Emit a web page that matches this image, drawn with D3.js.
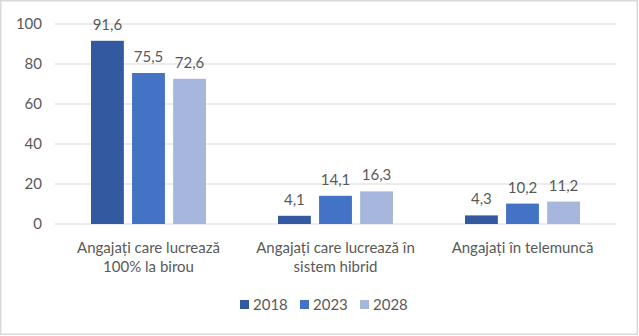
<!DOCTYPE html><meta charset="utf-8"><style>
    body { margin: 0; }
    text { font-family: Lato, "Open Sans", sans-serif; fill: #595959; }
</style><svg width="639" height="336"></svg><script src="https://cdn.jsdelivr.net/npm/d3@7"></script><script>

    var width = 639, height = 336;
    var margin = ({top: 24, right: 23, bottom: 112, left: 55});
    var fontSize = "15px";

    var categories = [
        ["Angajați care lucrează", "100% la birou"],
        ["Angajați care lucrează în", "sistem hibrid"],
        ["Angajați în telemuncă"]
    ];
    var years = ["2018", "2023", "2028"];
    var v2018 = [91.6, 4.1, 4.3];
    var v2023 = [75.5, 14.1, 10.2];
    var v2028 = [72.6, 16.3, 11.2];
    var yTicks = [0, 20, 40, 60, 80, 100];
    var colors = ["#335AA1", "#4472C4", "#A6B6DC"];

    var series = [v2018, v2023, v2028];
    var data = categories.map((c, i) => ({
        name: i,
        lines: c,
        values: years.map((y, j) => ({year: y, value: series[j][i]}))
    }));

    var formatValue = d => d.toFixed(1).replace(".", ",");

    var svg = d3.select("svg").attr("viewBox", [0, 0, width, height]);

    svg.append("rect")
        .attr("x", 0.75).attr("y", 0.75)
        .attr("width", width - 2.5).attr("height", height - 2.5)
        .attr("fill", "#fff").attr("stroke", "#d9d9d9").attr("stroke-width", 1.5);

    var x = d3.scaleBand()
        .domain(data.map(d => d.name))
        .range([margin.left, width - margin.right]);

    var x1 = d3.scaleBand()
        .domain(years)
        .range([0, 115])
        .paddingInner(0.2);

    var y = d3.scaleLinear()
        .domain([0, 100])
        .range([height - margin.bottom, margin.top]);

    // grid
    svg.append("g")
        .selectAll("line")
        .data(yTicks)
        .join("line")
        .attr("x1", margin.left).attr("x2", width - margin.right)
        .attr("y1", d => y(d)).attr("y2", d => y(d))
        .attr("stroke", "#d9d9d9").attr("stroke-width", 1.2);

    svg.append("g")
        .attr("transform", `translate(42,0)`)
        .call(d3.axisLeft(y).tickValues(yTicks).tickSize(0).tickPadding(0))
        .call(g => g.select(".domain").remove())
        .call(g => g.selectAll("text")
            .attr("fill", "#595959")
            .style("font-family", "Lato, 'Open Sans', sans-serif")
            .style("font-size", fontSize));

    var groups = svg.append("g")
        .selectAll("g")
        .data(data)
        .join("g")
        .attr("transform", d => `translate(${x(d.name) + x.bandwidth() / 2 - 57.5},0)`);

    groups.selectAll("rect")
        .data(d => d.values)
        .join("rect")
        .attr("x", d => x1(d.year))
        .attr("y", d => y(d.value))
        .attr("width", x1.bandwidth())
        .attr("height", d => y(0) - y(d.value))
        .attr("fill", (d, i) => colors[i]);

    groups.selectAll("text.val")
        .data(d => d.values)
        .join("text")
        .attr("class", "val")
        .attr("x", d => x1(d.year) + x1.bandwidth() / 2)
        .attr("y", d => y(d.value) - 11)
        .attr("text-anchor", "middle")
        .style("font-size", fontSize)
        .text(d => formatValue(d.value));

    // category labels
    svg.append("g")
        .selectAll("text")
        .data(data)
        .join("text")
        .attr("x", d => x(d.name) + x.bandwidth() / 2)
        .attr("y", 253)
        .attr("text-anchor", "middle")
        .style("font-size", fontSize)
        .selectAll("tspan")
        .data(d => d.lines)
        .join("tspan")
        .attr("x", function() { return d3.select(this.parentNode).attr("x"); })
        .attr("dy", (d, i) => i ? 19 : 0)
        .text(d => d);

    // legend
    var legend = svg.append("g")
        .selectAll("g")
        .data(years)
        .join("g")
        .attr("transform", (d, i) => `translate(${240 + i * 60},300)`);

    legend.append("rect")
        .attr("width", 9).attr("height", 9)
        .attr("fill", (d, i) => colors[i]);

    legend.append("text")
        .attr("x", 13).attr("y", 9.5)
        .style("font-size", fontSize)
        .text(d => d);

</script>
